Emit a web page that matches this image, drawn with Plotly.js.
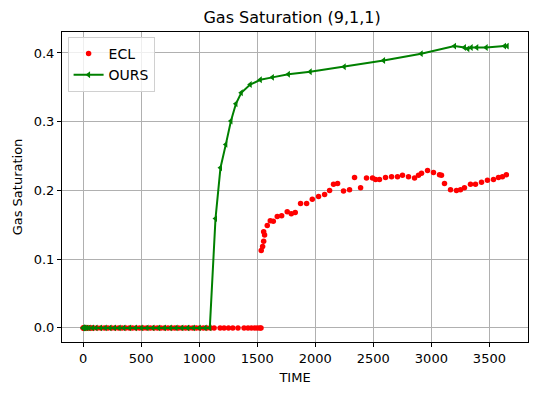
<!DOCTYPE html>
<html>
<head>
<meta charset="utf-8">
<script src="https://cdn.plot.ly/plotly-3.0.1.min.js"></script>
<style>html,body{margin:0;padding:0;background:#fff;}#chart{width:536px;height:393px;}</style>
</head>
<body>
<div id="chart"></div>
<script>
const eclTime = [0,1,3,7,14,21,31,45,60,75,91,121,152,182,213,244,274,305,335,366,397,425,456,486,517,547,578,609,639,670,700,731,762,790,821,851,882,912,943,974,1004,1035,1065,1096,1128,1180,1214,1252,1289,1334,1386,1420,1449,1478,1501,1523,1532,
  1534,1546,1555,1563,1555,1586,1612,1638,1672,1710,1758,1793,1827,1873,1925,1974,2028,2080,2123,2157,2192,2243,2295,2338,2390,2441,2493,2519,2553,2605,2657,2708,2751,2803,2855,2889,2915,2967,3018,3070,3087,3113,3165,3216,3251,3285,3337,3380,3432,3483,3535,3578,3612,3646];
const eclSg = [0,0,0,0,0,0,0,0,0,0,0,0,0,0,0,0,0,0,0,0,0,0,0,0,0,0,0,0,0,0,0,0,0,0,0,0,0,0,0,0,0,0,0,0,0,0,0,0,0,0,0,0,0,0,0,0,0,
  0.1127,0.1185,0.126,0.135,0.140,0.149,0.156,0.155,0.162,0.163,0.169,0.166,0.168,0.181,0.181,0.187,0.191,0.194,0.200,0.209,0.210,0.199,0.201,0.219,0.204,0.218,0.218,0.216,0.216,0.219,0.220,0.220,0.222,0.220,0.218,0.222,0.225,0.229,0.226,0.223,0.222,0.210,0.201,0.200,0.201,0.204,0.209,0.209,0.212,0.215,0.216,0.219,0.220,0.223];
const oursTime = [0,1,3,7,14,30,50,80,110,150,190,230,270,310,350,400,450,500,550,600,650,700,750,800,850,900,950,1000,1050,1091,
  1140,1183,1229,1273,1316,1362,1439,1526,1630,1768,1956,2249,2588,2912,3199,3285,3314,3343,3391,3472,3630,3653];
const oursSg = [0,0,0,0,0,0,0,0,0,0,0,0,0,0,0,0,0,0,0,0,0,0,0,0,0,0,0,0,0,0,
  0.159,0.233,0.267,0.301,0.326,0.342,0.354,0.361,0.3645,0.369,0.3727,0.380,0.389,0.399,0.410,0.408,0.406,0.408,0.408,0.408,0.410,0.410];
const xTicks = [0,500,1000,1500,2000,2500,3000,3500];
const yTicks = [0,0.1,0.2,0.3,0.4];

const font = 'DejaVu Sans, sans-serif';
const traces = [
  {x: eclTime, y: eclSg, name: 'ECL', mode: 'markers', type: 'scatter',
   marker: {color: '#ff0000', size: 5.5, symbol: 'circle'}},
  {x: oursTime, y: oursSg, name: 'OURS', mode: 'lines+markers', type: 'scatter',
   line: {color: '#008000', width: 2},
   marker: {color: '#008000', size: 6, symbol: 'triangle-left'}}
];
const axisCommon = {
  showline: true, mirror: true, linecolor: '#000', linewidth: 1,
  ticks: 'outside', ticklen: 4, tickcolor: '#000', tickwidth: 1,
  showgrid: true, gridcolor: '#b0b0b0', gridwidth: 1, zeroline: false,
  tickfont: {family: font, size: 13, color: '#000'}
};
const layout = {
  width: 536, height: 393,
  margin: {l: 62, r: 8, t: 32, b: 51},
  paper_bgcolor: '#fff', plot_bgcolor: '#fff',
  font: {family: font, color: '#000'},
  title: {text: 'Gas Saturation (9,1,1)', x: 0.545, xanchor: 'center', y: 0.955, yanchor: 'middle',
          font: {family: font, size: 16, color: '#000'}},
  xaxis: Object.assign({}, axisCommon, {range: [-182.5, 3832.5], tickvals: xTicks, ticktext: xTicks.map(String),
          title: {text: 'TIME', font: {family: font, size: 13}, standoff: 8}}),
  yaxis: Object.assign({}, axisCommon, {range: [-0.0205, 0.4305], tickvals: yTicks, ticktext: yTicks.map(v => v.toFixed(1)),
          title: {text: 'Gas Saturation', font: {family: font, size: 13}, standoff: 8}}),
  showlegend: true,
  legend: {x: 0.012, y: 0.984, xanchor: 'left', yanchor: 'top', bgcolor: 'rgba(255,255,255,0.8)',
           bordercolor: '#d0d0d0', borderwidth: 1, font: {family: font, size: 14}}
};
Plotly.newPlot('chart', traces, layout, {displayModeBar: false, staticPlot: true});
</script>
</body>
</html>
